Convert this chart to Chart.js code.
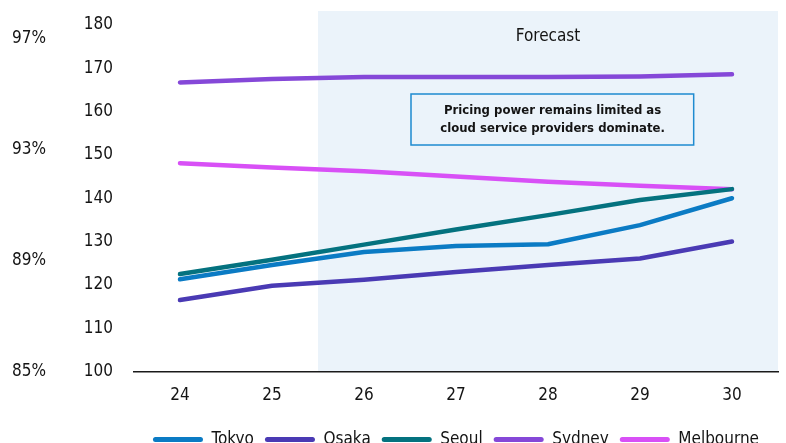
<!DOCTYPE html>
<html>
<head>
<meta charset="utf-8">
<script src="https://cdn.jsdelivr.net/npm/chart.js@4/dist/chart.umd.min.js"></script>
<style>
  html, body { margin: 0; padding: 0; background: #fff; overflow: hidden; }
  #wrap { width: 786px; height: 443px; overflow: hidden; position: relative; }
  canvas { display: block; }
</style>
</head>
<body>
<div id="wrap"><canvas id="chart" width="786" height="458"></canvas></div>
<script>
// Years (20xx) on the category axis
const years = ['24', '25', '26', '27', '28', '29', '30'];

// Index values per city
const tokyo     = [121.3, 124.6, 127.6, 129.0, 129.4, 133.8, 140.0];
const osaka     = [116.5, 119.8, 121.2, 123.0, 124.6, 126.1, 130.0];
const seoul     = [122.5, 125.8, 129.3, 132.8, 136.1, 139.6, 142.1];
const sydney    = [166.7, 167.5, 168.0, 168.0, 168.0, 168.1, 168.6];
const melbourne = [148.1, 147.1, 146.2, 145.0, 143.8, 142.9, 142.1];

// Secondary (share) axis tick values, in percent
const shareTicks = [85, 89, 93, 97];

// Forecast period and callout text
const forecastFrom = '26';
const forecastLabel = 'Forecast';
const noteLines = ['Pricing power remains limited as', 'cloud service providers dominate.'];

const FONT = '"DejaVu Sans Condensed", "Liberation Sans Narrow", "Roboto Condensed", sans-serif';
const INK = '#141414';
const SHADE = '#EBF3FA';

const series = [
  { label: 'Tokyo',     data: tokyo,     color: '#0B7BC4' },
  { label: 'Osaka',     data: osaka,     color: '#4A3AB4' },
  { label: 'Seoul',     data: seoul,     color: '#04727F' },
  { label: 'Sydney',    data: sydney,    color: '#8548D8' },
  { label: 'Melbourne', data: melbourne, color: '#D850F6' }
];

// Vertical axes: fixed width, no extra room reserved for edge labels
const fitVertical = width => axis => {
  axis.width = width;
  axis.paddingTop = 0;
  axis.paddingBottom = 0;
};

// Shaded forecast band, its heading and the boxed note
const forecastPlugin = {
  id: 'forecastBand',
  beforeDraw(chart) {
    const { ctx, chartArea, scales } = chart;
    const x0 = scales.x.getPixelForValue(years.indexOf(forecastFrom) - 0.5);
    ctx.save();
    ctx.fillStyle = SHADE;
    ctx.fillRect(x0, chartArea.top, chartArea.right - x0, chartArea.bottom - chartArea.top);
    ctx.restore();
  },
  afterDatasetsDraw(chart) {
    const { ctx, chartArea, scales } = chart;
    ctx.save();
    // heading
    ctx.fillStyle = INK;
    ctx.font = '17px ' + FONT;
    ctx.textAlign = 'center';
    ctx.textBaseline = 'middle';
    ctx.fillText(forecastLabel, scales.x.getPixelForValue(4), chartArea.top + 26);

    // note box
    ctx.font = 'bold 13px ' + FONT;
    const lineH = 18;
    const w = Math.max(...noteLines.map(t => ctx.measureText(t).width)) + 58;
    const h = 51;
    const cx = scales.x.getPixelForValue(4.05);
    const cy = scales.y.getPixelForValue(158.2);
    const left = Math.round(cx - w / 2), top = Math.round(cy - h / 2);
    ctx.fillStyle = SHADE;
    ctx.fillRect(left, top, w, h);
    ctx.strokeStyle = '#1E8BD0';
    ctx.lineWidth = 1.5;
    ctx.strokeRect(left, top, w, h);
    ctx.fillStyle = INK;
    noteLines.forEach((t, i) => {
      ctx.fillText(t, cx, cy + (i - (noteLines.length - 1) / 2) * lineH);
    });
    ctx.restore();
  }
};

new Chart(document.getElementById('chart'), {
  type: 'line',
  data: {
    labels: years,
    datasets: series.map(s => ({
      label: s.label,
      data: s.data,
      borderColor: s.color,
      backgroundColor: s.color,
      borderWidth: 4.5,
      borderCapStyle: 'round',
      borderJoinStyle: 'round',
      pointRadius: 0,
      pointHoverRadius: 0,
      tension: 0,
      yAxisID: 'y'
    }))
  },
  options: {
    responsive: false,
    animation: false,
    events: [],
    layout: { padding: { top: 11, right: 8, left: 0, bottom: 0 } },
    scales: {
      x: {
        offset: true,
        grid: { display: false, drawTicks: false },
        border: { display: true, color: '#1A1A1A', width: 1.5 },
        ticks: { color: INK, font: { family: FONT, size: 17 }, padding: 14, maxRotation: 0 }
      },
      y: {
        position: 'left',
        weight: 0,
        min: 100,
        max: 183.2,
        grid: { display: false, drawTicks: false },
        border: { display: false },
        ticks: { stepSize: 10, includeBounds: false, color: INK, font: { family: FONT, size: 17 }, padding: 21 },
        afterFit: fitVertical(78)
      },
      share: {
        type: 'linear',
        position: 'left',
        weight: 1,
        min: 85,
        max: 98,
        grid: { display: false, drawTicks: false },
        border: { display: false },
        afterBuildTicks(axis) { axis.ticks = shareTicks.map(v => ({ value: v })); },
        ticks: { color: INK, font: { family: FONT, size: 17 }, padding: 10, callback: v => v + '%' },
        afterFit: fitVertical(56)
      }
    },
    plugins: {
      tooltip: { enabled: false },
      legend: {
        position: 'bottom',
        fullSize: false,
        labels: {
          color: INK,
          font: { family: FONT, size: 17 },
          boxWidth: 50,
          boxHeight: 5,
          useBorderRadius: true,
          borderRadius: 2.5,
          padding: 11,
          generateLabels(chart) {
            return Chart.defaults.plugins.legend.labels.generateLabels(chart).map(item => {
              item.lineWidth = 0;
              item.fillStyle = item.strokeStyle;
              return item;
            });
          }
        }
      }
    }
  },
  plugins: [forecastPlugin]
});
</script>
</body>
</html>
